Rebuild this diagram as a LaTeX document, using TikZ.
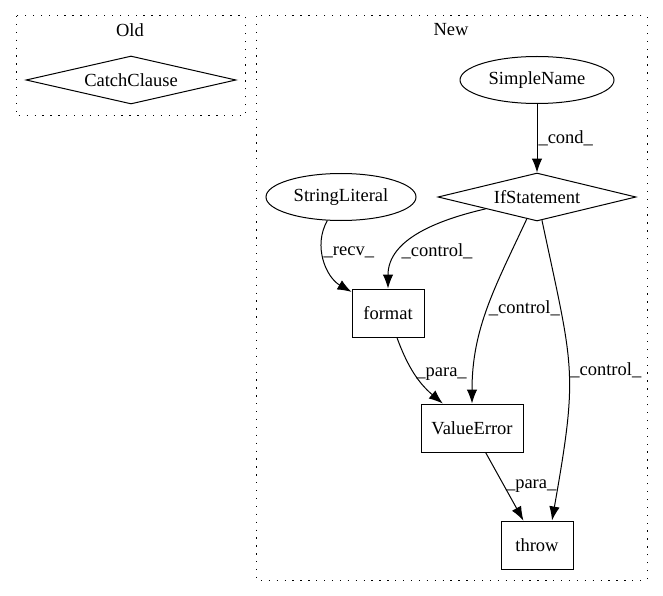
\documentclass[tikz,border=0pt]{standalone}
\usepackage{fontspec}
\setmainfont{Liberation Serif}
\usetikzlibrary{arrows.meta,shapes.geometric}

\begin{document}
\begin{tikzpicture}[x=1pt,y=1pt,->,>={Latex[length=14pt,width=10.5pt]},line width=1pt,
                    font=\fontsize{18.5}{20}\selectfont,
                    cluster/.style={draw,-,dash pattern=on 1.3pt off 6.6pt},
                    ast node/.style={draw,ellipse,inner sep=0pt,minimum width=154pt,minimum height=47pt},
                    cond node/.style={draw,diamond,shape aspect=4.4,inner sep=0pt,minimum height=48pt},
                    call node/.style={draw,rectangle,inner sep=0pt,minimum height=48pt}]
  \useasboundingbox (0,0) rectangle (663,-596);

  % clusters
  \draw[cluster] (16,-16) rectangle (245,-116);
  \node (oldlabel) at (130,-30) {Old};
  \draw[cluster] (256,-16) rectangle (647,-580);
  \node (newlabel) at (451,-30) {New};

  \node[cond node,minimum width=210pt] (catch) at (131,-80) {CatchClause};

  \node[ast node] (simple) at (537,-80) {SimpleName};
  \node[cond node,minimum width=198pt] (ifst) at (537,-197) {IfStatement};
  \node[ast node,minimum width=150pt] (strlit) at (341,-197) {StringLiteral};
  \node[call node,minimum width=72pt] (format) at (388,-313) {format};
  \node[call node,minimum width=102pt] (valerr) at (472,-428) {ValueError};
  \node[call node,minimum width=72pt] (throw) at (537,-545) {throw};

\path[every node/.style={right,inner sep=1pt}]
    (simple) edge node[pos=0.5] {\_cond\_} (ifst)
    (strlit) edge[out=-120,in=150] node[pos=0.4] {\_recv\_} (format)
    (ifst) edge[out=193,in=90] node[pos=0.7] {\_control\_} (format)
           edge[out=-115,in=90] node[pos=0.5] {\_control\_} (valerr)
           edge[out=-78,in=80,looseness=1.3] node[pos=0.5] {\_control\_} ([xshift=15pt]throw.north)
    (format) edge[out=-70,in=140] node[pos=0.5] {\_para\_} (valerr)
    (valerr) edge node[pos=0.5] {\_para\_} (throw)
;
\end{tikzpicture}
\end{document}
